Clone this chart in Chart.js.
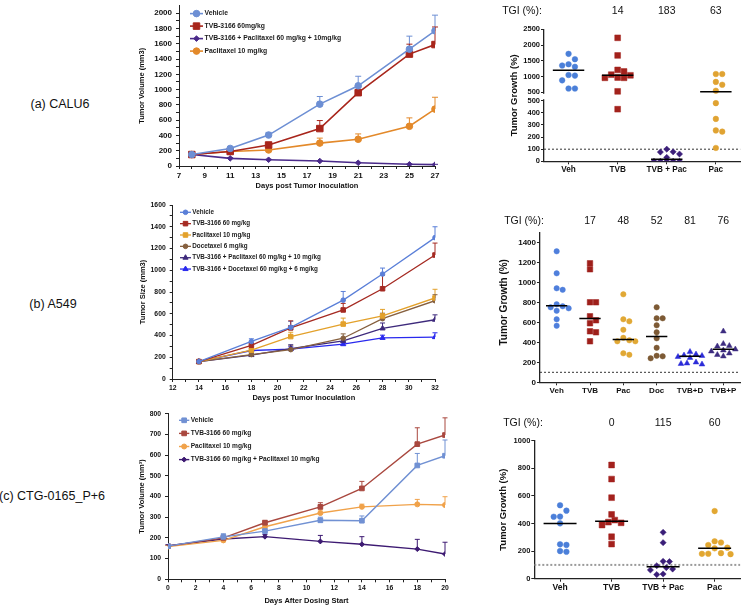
<!DOCTYPE html>
<html lang="en">
<head>
<meta charset="UTF-8">
<title>TVB-3166 combination studies</title>
<script src="https://cdn.jsdelivr.net/npm/chart.js"></script>
<style>
  body { margin: 0; background: #fff; }
  #fig { position: relative; width: 745px; height: 606px; overflow: hidden; font-family: "Liberation Sans", Arial, sans-serif; }
  #fig canvas { position: absolute; }
  .model { position: absolute; font-size: 12.5px; color: #111; white-space: nowrap; transform: translate(-50%, -50%); }
</style>
</head>
<body>
<div id="fig">
  <div class="model" style="left:60px;top:104px">(a) CALU6</div>
  <div class="model" style="left:53px;top:304px">(b) A549</div>
  <div class="model" style="left:52px;top:496px">(c) CTG-0165_P+6</div>
  <canvas id="lineA" width="345" height="195" style="left:100px;top:0"></canvas>
  <canvas id="dotA" width="305" height="190" style="left:440px;top:0"></canvas>
  <canvas id="lineB" width="345" height="206" style="left:100px;top:200px"></canvas>
  <canvas id="dotB" width="305" height="200" style="left:440px;top:200px"></canvas>
  <canvas id="lineC" width="350" height="201" style="left:100px;top:405px"></canvas>
  <canvas id="dotC" width="305" height="206" style="left:440px;top:400px"></canvas>
</div>
<script>
const FONT = '"Liberation Sans", Arial, sans-serif';
Chart.defaults.font.family = FONT;
Chart.defaults.color = '#111';

// ---------- (a) CALU6 ----------
const daysA = [8, 11, 14, 18, 21, 25, 27];
const vehA = [150, 230, 405, 810, 1050, 1530, 1770];
const vehErrA = [12, 22, 35, 100, 125, 170, 205];
const tvbA = [150, 190, 275, 490, 960, 1465, 1590];
const tvbErrA = [10, 15, 25, 105, 75, 130, 230];
const comboA = [150, 100, 82, 65, 42, 22, 18];
const comboErrA = [10, 8, 6, 5, 5, 4, 4];
const pacA = [150, 190, 210, 300, 350, 520, 745];
const pacErrA = [10, 15, 18, 65, 70, 110, 155];
const xTicksA = [7, 9, 11, 13, 15, 17, 19, 21, 23, 25, 27];
const yTicksA = [0, 200, 400, 600, 800, 1000, 1200, 1400, 1600, 1800, 2000];

const catsA = ['Veh', 'TVB', 'TVB + Pac', 'Pac'];
const tgiA = ['', '14', '183', '63'];
const vehDotsA = [1720, 1550, 1390, 1350, 1310, 1050, 1030, 880, 620, 620];
const tvbDotsA = [2230, 1670, 1210, 1160, 1060, 1040, 970, 960, 960, 530, 430];
const comboDotsA = [100, 78, 76, 60, 32, 0, 0, 0, 0, 0];
const pacDotsA = [1080, 1080, 830, 740, 550, 480, 350, 255, 245, 110];
const medA = [1200, 1040, 16, 515];
const yHighTicksA = [500, 1000, 1500, 2000, 2500];
const yLowTicksA = [0, 100, 200, 300, 400, 500];

// ---------- (b) A549 ----------
const daysB = [14, 18, 21, 25, 28, 32];
const vehB = [160, 345, 475, 725, 965, 1300];
const vehErrB = [10, 25, 55, 80, 55, 100];
const tvbB = [160, 310, 470, 635, 830, 1140];
const tvbErrB = [10, 25, 65, 60, 125, 110];
const pacB = [160, 265, 390, 505, 580, 745];
const pacErrB = [10, 20, 40, 55, 60, 80];
const docB = [160, 225, 270, 375, 555, 720];
const docErrB = [10, 20, 35, 40, 50, 55];
const tvbPacB = [160, 220, 280, 350, 465, 545];
const tvbPacErrB = [10, 15, 35, 25, 50, 45];
const tvbDocB = [160, 262, 275, 320, 378, 385];
const tvbDocErrB = [10, 15, 20, 20, 25, 40];
const xTicksB = [12, 14, 16, 18, 20, 22, 24, 26, 28, 30, 32];
const yTicksB = [0, 200, 400, 600, 800, 1000, 1200, 1400, 1600];

const catsB = ['Veh', 'TVB', 'Pac', 'Doc', 'TVB+D', 'TVB+P'];
const tgiB = ['', '17', '48', '52', '81', '76'];
const vehDotsB = [1310, 1090, 940, 925, 780, 760, 750, 740, 715, 630, 565];
const tvbDotsB = [1190, 1130, 800, 800, 660, 620, 590, 510, 500, 410];
const pacDotsB = [880, 630, 610, 525, 445, 420, 410, 410, 290, 275];
const docDotsB = [750, 640, 640, 570, 500, 440, 345, 265, 260, 240];
const tvbdDotsB = [305, 280, 270, 265, 255, 245, 200, 190, 185, 180];
const tvbpDotsB = [510, 385, 365, 360, 330, 320, 310, 290, 275, 260];
const medB = [766, 637, 427, 457, 260, 330];
const yDotTicksB = [0, 200, 400, 600, 800, 1000, 1200, 1400];

// ---------- (c) CTG-0165_P+6 ----------
const daysC = [0, 4, 7, 11, 14, 18, 20];
const vehC = [160, 205, 233, 285, 283, 550, 597];
const vehErrC = [5, 15, 12, 15, 23, 58, 76];
const tvbC = [160, 200, 273, 350, 439, 653, 697];
const tvbErrC = [5, 10, 12, 20, 34, 79, 83];
const pacC = [158, 188, 254, 320, 350, 362, 359];
const pacErrC = [5, 8, 10, 15, 13, 24, 40];
const comboC = [162, 195, 206, 183, 169, 146, 122];
const comboErrC = [5, 8, 10, 29, 37, 47, 57];
const xTicksC = [0, 2, 4, 6, 8, 10, 12, 14, 16, 18, 20];
const yTicksC = [0, 100, 200, 300, 400, 500, 600, 700, 800];

const catsC = ['Veh', 'TVB', 'TVB + Pac', 'Pac'];
const tgiC = ['', '0', '115', '60'];
const vehDotsC = [532, 493, 450, 449, 401, 249, 245, 200, 195];
const tvbDotsC = [824, 722, 587, 466, 425, 410, 405, 389, 304, 251];
const comboDotsC = [336, 261, 126, 124, 94, 80, 70, 63, 34, 30];
const pacDotsC = [490, 271, 262, 244, 225, 220, 185, 181, 180, 178];
const medC = [400, 416, 87, 220];
const yDotTicksC = [0, 200, 400, 600, 800, 1000];

// ---------- helpers ----------
function withMinor(major) {
  const out = [];
  major.forEach((v, i) => { out.push(v); if (i < major.length - 1) out.push((v + major[i + 1]) / 2); });
  return out;
}

// force scale box sizes so the plot areas land where they should
function fix(size) {
  return s => {
    if (s.isHorizontal()) s.height = size; else s.width = size;
    s.paddingLeft = s.paddingRight = s.paddingTop = s.paddingBottom = 0;
  };
}

function marker(ctx, style, r, x, y) {
  if (Chart.helpers && Chart.helpers.drawPoint) {
    Chart.helpers.drawPoint(ctx, {pointStyle: style, radius: r, rotation: 0, borderWidth: 1}, x, y);
  } else {
    ctx.fillRect(x - r, y - r, 2 * r, 2 * r);
  }
}

const errorBars = {
  id: 'errorBars',
  beforeDatasetsDraw(chart) {
    const ctx = chart.ctx;
    chart.data.datasets.forEach((ds, i) => {
      if (!ds.errUp) return;
      const meta = chart.getDatasetMeta(i);
      const ys = chart.scales[meta.yAxisID];
      ctx.save();
      ctx.strokeStyle = ds.borderColor;
      ctx.lineWidth = 1;
      meta.data.forEach((pt, j) => {
        const top = ys.getPixelForValue(ds.data[j].y + ds.errUp[j]);
        ctx.beginPath();
        ctx.moveTo(pt.x, pt.y); ctx.lineTo(pt.x, top);
        ctx.moveTo(pt.x - ds.cap, top); ctx.lineTo(pt.x + ds.cap, top);
        ctx.stroke();
      });
      ctx.restore();
    });
  }
};

function insideLegend(L) {
  return {
    id: 'insideLegend',
    afterDraw(chart) {
      const {ctx, chartArea} = chart;
      ctx.save();
      ctx.font = 'bold ' + L.size + 'px ' + FONT;
      ctx.textBaseline = 'middle';
      chart.data.datasets.forEach((ds, i) => {
        const y = chartArea.top + L.dy + i * L.step;
        const x0 = chartArea.left + L.dx;
        ctx.strokeStyle = ds.borderColor;
        ctx.fillStyle = ds.borderColor;
        ctx.lineWidth = ds.borderWidth;
        ctx.beginPath(); ctx.moveTo(x0, y); ctx.lineTo(x0 + L.len, y); ctx.stroke();
        ctx.lineWidth = 1;
        marker(ctx, ds.pointStyle, ds.pointRadius, x0 + L.len / 2, y);
        ctx.fillStyle = '#1a1a1a';
        ctx.fillText(ds.label, x0 + L.len + L.gap, y);
      });
      ctx.restore();
    }
  };
}

function lineChart(id, o) {
  const tick = {family: FONT, weight: 'bold', size: o.tickSize};
  const title = {family: FONT, weight: 'bold', size: o.titleSize};
  const axis = (major, minor, extra) => Object.assign({
    type: 'linear',
    afterBuildTicks: s => { s.ticks = (minor ? withMinor(major) : major).map(v => ({value: v})); },
    ticks: {callback: v => major.includes(v) ? String(v) : '', font: tick, color: '#111', autoSkip: false, maxRotation: 0},
    grid: {drawOnChartArea: false, tickLength: 3, color: '#222'},
    border: {color: '#222', width: 1}
  }, extra);
  const x = axis(o.xTicks, true, {min: o.xMin, max: o.xMax, afterFit: fix(o.xH),
    title: {display: true, text: o.xTitle, font: title, color: '#111', padding: {top: 0, bottom: o.xTitlePad}}});
  x.ticks.padding = 2;
  const y = axis(o.yTicks, o.yMinor, {min: 0, max: o.yMax, afterFit: fix(o.yW),
    title: {display: true, text: o.yTitle, font: title, color: '#111', padding: {top: o.yTitlePad, bottom: 0}}});
  y.ticks.padding = 4;
  return new Chart(document.getElementById(id), {
    type: 'line',
    data: {
      datasets: o.series.map(s => ({
        label: s.label,
        data: o.days.map((d, i) => ({x: d, y: s.values[i]})),
        errUp: s.err,
        cap: o.cap,
        borderColor: s.color,
        backgroundColor: s.color,
        pointBackgroundColor: s.color,
        pointBorderColor: s.color,
        borderWidth: o.lineWidth,
        pointStyle: s.marker,
        pointRadius: s.radius,
        pointBorderWidth: 1,
        tension: 0
      }))
    },
    options: {
      responsive: false,
      animation: false,
      layout: {padding: o.pad},
      plugins: {legend: {display: false}, tooltip: {enabled: false}},
      scales: {x: x, y: y}
    },
    plugins: [errorBars, insideLegend(o.legend)]
  });
}

// small beeswarm: push points sideways when they would overlap, within the column
function swarm(vals, toPx, dot, spacing) {
  const placed = [];
  const offs = [];
  const maxOff = spacing * 0.36;
  const cands = [0];
  for (let k = 1; k * dot / 2 <= maxOff; k++) cands.push(k * dot / 2, -k * dot / 2);
  vals.map((v, i) => i).sort((a, b) => vals[b] - vals[a]).forEach(i => {
    const y = toPx(vals[i]);
    let best = null, bestGap = -1;
    for (const c of cands) {
      const gap = placed.length ? Math.min(...placed.map(p => Math.hypot(p.x - c, p.y - y))) : Infinity;
      if (gap >= dot) { best = c; break; }
      if (gap > bestGap) { bestGap = gap; best = c; }
    }
    placed.push({x: best, y: y});
    offs[i] = best / spacing;
  });
  return offs;
}

function dotChart(id, o) {
  const n = o.cats.length;
  const spacing = o.plotWidth / n;
  const datasets = [];
  o.groups.forEach((g, gi) => {
    const offs = swarm(g.values, o.toPx, o.dot, spacing);
    const parts = {};
    g.values.forEach((v, j) => {
      const ax = o.axisFor(v);
      (parts[ax] = parts[ax] || []).push({x: gi + offs[j], y: v});
    });
    Object.keys(parts).forEach(ax => datasets.push({
      data: parts[ax], yAxisID: ax, pointStyle: g.marker, pointRadius: g.radius,
      pointBackgroundColor: g.color, pointBorderColor: g.color, pointBorderWidth: 0.5, order: 1
    }));
  });
  o.medians.forEach((m, gi) => datasets.push({
    data: [{x: gi - 0.32, y: m}, {x: gi + 0.32, y: m}], yAxisID: o.axisFor(m),
    showLine: true, borderColor: '#000', borderWidth: 1.5, pointRadius: 0, order: 0
  }));
  datasets.push({
    data: [{x: -0.5, y: 100}, {x: n - 0.5, y: 100}], yAxisID: o.axisFor(100),
    showLine: true, borderColor: o.refColor, borderWidth: o.refWidth, borderDash: [2, 2], pointRadius: 0, order: 2
  });

  const tickFont = {family: FONT, weight: 'bold', size: o.tickSize};
  const scales = {
    x: {
      type: 'linear', min: -0.5, max: n - 0.5, afterFit: fix(o.xH),
      afterBuildTicks: s => { s.ticks = o.cats.map((c, i) => ({value: i})); },
      ticks: {callback: v => o.cats[v], font: {family: FONT, weight: 'bold', size: o.catSize}, color: '#111', padding: 1, autoSkip: false, maxRotation: 0},
      grid: {drawOnChartArea: false, tickLength: 3, color: '#222'},
      border: {color: '#222', width: 1.3}
    }
  };
  o.yAxes.forEach(a => {
    scales[a.id] = {
      type: 'linear', position: 'left', min: a.min, max: a.max, stack: a.stack, stackWeight: a.weight,
      afterFit: fix(o.yW),
      afterBuildTicks: s => { s.ticks = a.ticks.map(v => ({value: v})); },
      ticks: {callback: v => String(v), font: tickFont, color: '#111', padding: 1, autoSkip: false},
      grid: {drawOnChartArea: false, tickLength: 3, color: '#222'},
      border: {color: '#222', width: 1.3}
    };
  });

  const extras = {
    id: 'extras',
    afterDraw(chart) {
      const {ctx, chartArea} = chart;
      ctx.save();
      // axis break between the two stacked ranges
      if (o.breakAt) {
        const ya = chart.scales.yHigh.getPixelForValue(o.breakAt);
        const yb = chart.scales.yLow.getPixelForValue(o.breakAt);
        const y1 = Math.min(ya, yb), y2 = Math.max(ya, yb);
        ctx.fillStyle = '#fff';
        ctx.fillRect(chartArea.left - 1.5, y1 + 1.5, 3, y2 - y1 - 3);
      }
      // y title
      ctx.fillStyle = '#111';
      ctx.font = 'bold ' + o.yTitleSize + 'px ' + FONT;
      ctx.textAlign = 'center';
      ctx.textBaseline = 'middle';
      ctx.translate(o.yTitleX, (chartArea.top + chartArea.bottom) / 2 + o.yTitleShift);
      ctx.rotate(-Math.PI / 2);
      ctx.fillText('Tumor Growth (%)', 0, 0);
      ctx.setTransform(1, 0, 0, 1, 0, 0);
      // TGI row
      ctx.font = o.tgiSize + 'px ' + FONT;
      ctx.fillText('TGI (%):', o.tgiX, o.tgiY);
      const xs = chart.scales.x;
      o.tgi.forEach((t, i) => { if (t) ctx.fillText(t, xs.getPixelForValue(i), o.tgiY); });
      ctx.restore();
    }
  };

  return new Chart(document.getElementById(id), {
    type: 'scatter',
    data: {datasets: datasets},
    options: {
      responsive: false,
      animation: false,
      layout: {padding: o.pad},
      plugins: {legend: {display: false}, tooltip: {enabled: false}},
      scales: scales
    },
    plugins: [extras]
  });
}

// ---------- line charts ----------
lineChart('lineA', {
  days: daysA, xMin: 7, xMax: 27, xTicks: xTicksA, yMax: 2100, yTicks: yTicksA, yMinor: true,
  pad: {left: 0, top: 2, right: 10, bottom: 0}, yW: 79, xH: 29,
  tickSize: 8, titleSize: 7.5, xTitle: 'Days post Tumor Inoculation', xTitlePad: 4.5,
  yTitle: 'Tumor Volume (mm3)', yTitlePad: 37.5, lineWidth: 1.6, cap: 3,
  legend: {dx: 11, dy: 8, step: 12.5, len: 13, gap: 1.5, size: 6.8},
  series: [
    {label: 'Vehicle', values: vehA, err: vehErrA, color: '#6d8fd4', marker: 'circle', radius: 3.3},
    {label: 'TVB-3166 60mg/kg', values: tvbA, err: tvbErrA, color: '#a8251b', marker: 'rect', radius: 4.6},
    {label: 'TVB-3166 + Paclitaxel 60 mg/kg + 10mg/kg', values: comboA, err: comboErrA, color: '#4a2a8a', marker: 'rectRot', radius: 2.8},
    {label: 'Paclitaxel 10 mg/kg', values: pacA, err: pacErrA, color: '#e3892a', marker: 'circle', radius: 3.3}
  ]
});

lineChart('lineB', {
  days: daysB, xMin: 12, xMax: 32, xTicks: xTicksB, yMax: 1600, yTicks: yTicksB, yMinor: true,
  pad: {left: 0, top: 5, right: 10, bottom: 0}, yW: 72.7, xH: 27,
  tickSize: 6.8, titleSize: 7.5, xTitle: 'Days post Tumor Inoculation', xTitlePad: 3.5,
  yTitle: 'Tumor Size (mm3)', yTitlePad: 38.5, lineWidth: 1.3, cap: 2.5,
  legend: {dx: 7.3, dy: 7.3, step: 11.35, len: 11, gap: 1.3, size: 6.3},
  series: [
    {label: 'Vehicle', values: vehB, err: vehErrB, color: '#5a7fd8', marker: 'circle', radius: 2.3},
    {label: 'TVB-3166 60 mg/kg', values: tvbB, err: tvbErrB, color: '#a52a22', marker: 'rect', radius: 3.2},
    {label: 'Paclitaxel 10 mg/kg', values: pacB, err: pacErrB, color: '#e3a12b', marker: 'rect', radius: 3.2},
    {label: 'Docetaxel 6 mg/kg', values: docB, err: docErrB, color: '#86603f', marker: 'circle', radius: 2.3},
    {label: 'TVB-3166 + Paclitaxel 60 mg/kg + 10 mg/kg', values: tvbPacB, err: tvbPacErrB, color: '#3e2a7c', marker: 'triangle', radius: 3},
    {label: 'TVB-3166 + Docetaxel 60 mg/kg + 6 mg/kg', values: tvbDocB, err: tvbDocErrB, color: '#2929ee', marker: 'triangle', radius: 3}
  ]
});

lineChart('lineC', {
  days: daysC, xMin: 0, xMax: 20, xTicks: xTicksC, yMax: 800, yTicks: yTicksC, yMinor: false,
  pad: {left: 0, top: 8.7, right: 2, bottom: 0}, yW: 68, xH: 26.7,
  tickSize: 6.8, titleSize: 7.5, xTitle: 'Days After Dosing Start', xTitlePad: 0.5,
  yTitle: 'Tumor Volume (mm³)', yTitlePad: 37.2, lineWidth: 1.4, cap: 2.5,
  legend: {dx: 11, dy: 6.6, step: 13.1, len: 10.3, gap: 1.4, size: 6.6},
  series: [
    {label: 'Vehicle', values: vehC, err: vehErrC, color: '#7191d3', marker: 'rect', radius: 3.3},
    {label: 'TVB-3166 60 mg/kg', values: tvbC, err: tvbErrC, color: '#a9483f', marker: 'rect', radius: 3.3},
    {label: 'Paclitaxel 10 mg/kg', values: pacC, err: pacErrC, color: '#f0a24a', marker: 'circle', radius: 2.5},
    {label: 'TVB-3166 60 mg/kg + Paclitaxel 10 mg/kg', values: comboC, err: comboErrC, color: '#3d1a72', marker: 'rectRot', radius: 2.5}
  ]
});

// ---------- dot plots ----------
dotChart('dotA', {
  cats: catsA, tgi: tgiA, medians: medA, plotWidth: 200, dot: 6.5,
  groups: [
    {values: vehDotsA, color: '#4a7fd8', marker: 'circle', radius: 2.8},
    {values: tvbDotsA, color: '#a3221c', marker: 'rect', radius: 4.1},
    {values: comboDotsA, color: '#3c1f7a', marker: 'rectRot', radius: 3.1},
    {values: pacDotsA, color: '#e0a332', marker: 'circle', radius: 2.8}
  ],
  axisFor: v => v >= 500 ? 'yHigh' : 'yLow',
  toPx: v => v < 500 ? v * 60.6 / 500 : 68.6 + (v - 500) * 63 / 2000,
  breakAt: 500,
  yAxes: [
    {id: 'yLow', min: 0, max: 535, ticks: yLowTicksA, stack: 'growth', weight: 64.8},
    {id: 'yHigh', min: 367, max: 2500, ticks: yHighTicksA, stack: 'growth', weight: 67.2}
  ],
  pad: {left: 0, top: 29.3, right: 1, bottom: 0}, yW: 104, xH: 28.7,
  tickSize: 7.5, catSize: 8.2, yTitleSize: 9.5, yTitleX: 74, yTitleShift: 0,
  tgiSize: 10.5, tgiX: 82, tgiY: 11, refColor: '#333', refWidth: 1
});

dotChart('dotB', {
  cats: catsB, tgi: tgiB, medians: medB, plotWidth: 200, dot: 6,
  groups: [
    {values: vehDotsB, color: '#4f7fdc', marker: 'circle', radius: 2.7},
    {values: tvbDotsB, color: '#9e1f1a', marker: 'rect', radius: 3.9},
    {values: pacDotsB, color: '#e1a835', marker: 'circle', radius: 2.7},
    {values: docDotsB, color: '#7d5a35', marker: 'circle', radius: 2.7},
    {values: tvbdDotsB, color: '#2b2bd8', marker: 'triangle', radius: 3.3},
    {values: tvbpDotsB, color: '#3d2c80', marker: 'triangle', radius: 3.3}
  ],
  axisFor: () => 'y',
  toPx: v => v * 0.1,
  yAxes: [{id: 'y', min: 0, max: 1500, ticks: yDotTicksB}],
  pad: {left: 0, top: 32.3, right: 5, bottom: 0}, yW: 100, xH: 17.7,
  tickSize: 8, catSize: 8, yTitleSize: 10, yTitleX: 64, yTitleShift: -5,
  tgiSize: 10.5, tgiX: 84, tgiY: 21, refColor: '#333', refWidth: 1
});

dotChart('dotC', {
  cats: catsC, tgi: tgiC, medians: medC, plotWidth: 210.7, dot: 6.5,
  groups: [
    {values: vehDotsC, color: '#4b7fd9', marker: 'circle', radius: 2.8},
    {values: tvbDotsC, color: '#a3211d', marker: 'rect', radius: 4.1},
    {values: comboDotsC, color: '#3a1e78', marker: 'rectRot', radius: 3.1},
    {values: pacDotsC, color: '#e2a731', marker: 'circle', radius: 2.8}
  ],
  axisFor: () => 'y',
  toPx: v => v * 0.138,
  yAxes: [{id: 'y', min: 0, max: 1000, ticks: yDotTicksC}],
  pad: {left: 0, top: 40.7, right: 0, bottom: 0}, yW: 94.3, xH: 27.3,
  tickSize: 7.5, catSize: 8.5, yTitleSize: 9.5, yTitleX: 63, yTitleShift: 0,
  tgiSize: 10.5, tgiX: 83, tgiY: 23, refColor: '#9a9a9a', refWidth: 2
});
</script>
</body>
</html>
